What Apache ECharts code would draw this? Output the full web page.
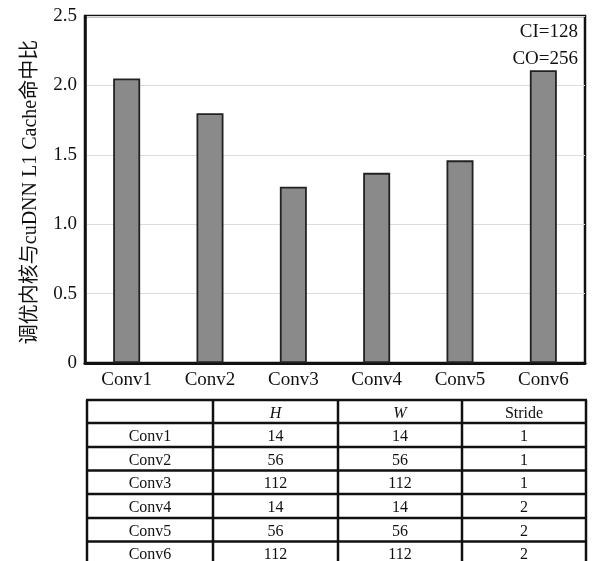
<!DOCTYPE html>
<html>
<head>
<meta charset="utf-8">
<script src="https://cdn.jsdelivr.net/npm/echarts@6/dist/echarts.min.js"></script>
<style>
html,body{margin:0;padding:0;background:#fff;}
#c{width:592px;height:561px;}
</style>
</head>
<body>
<div id="c"></div>
<script>
var categories = ['Conv1', 'Conv2', 'Conv3', 'Conv4', 'Conv5', 'Conv6'];
var hitRatio = [2.05, 1.80, 1.27, 1.37, 1.46, 2.11];
var yTicks = ['0', '0.5', '1.0', '1.5', '2.0', '2.5'];
var yAxisName = '调优内核与cuDNN L1 Cache命中比';
var notes = ['CI=128', 'CO=256'];
var tableHeader = ['', 'H', 'W', 'Stride'];
var tableH = [14, 56, 112, 14, 56, 112];
var tableW = [14, 56, 112, 14, 56, 112];
var tableStride = [1, 1, 1, 2, 2, 2];

var serif = "'Liberation Serif', 'Times New Roman', serif";
var chart = echarts.init(document.getElementById('c'));

// table layout
var colX = [87, 213, 338, 462, 586];
var rowY = [400, 423, 447, 470.5, 494, 518, 541.5, 565];
var graphics = [];
notes.forEach(function (t, i) {
  graphics.push({
    type: 'text',
    style: { text: t, x: 578, y: 32 + i * 27, font: '19px ' + serif, fill: '#111', align: 'right', verticalAlign: 'middle' }
  });
});
graphics.push({
  type: 'text', x: 31, y: 192, rotation: Math.PI / 2,
  style: { text: yAxisName, x: 0, y: 0, font: "20px 'Liberation Serif', 'Noto Sans CJK SC', serif", fill: '#111', align: 'center', verticalAlign: 'middle' }
});
// table lines
colX.forEach(function (x) {
  graphics.push({ type: 'line', shape: { x1: x, y1: rowY[0], x2: x, y2: rowY[rowY.length - 1] }, style: { stroke: '#111', lineWidth: 2.5 } });
});
rowY.forEach(function (y) {
  graphics.push({ type: 'line', shape: { x1: colX[0] - 1, y1: y, x2: colX[colX.length - 1] + 1, y2: y }, style: { stroke: '#111', lineWidth: 2.5 } });
});
function cell(text, c, r, italic) {
  graphics.push({
    type: 'text',
    style: {
      text: String(text),
      x: (colX[c] + colX[c + 1]) / 2,
      y: (rowY[r] + rowY[r + 1]) / 2 + 2,
      font: (italic ? 'italic ' : '') + '16px ' + serif,
      fill: '#111', align: 'center', verticalAlign: 'middle'
    }
  });
}
tableHeader.forEach(function (h, c) { if (h) cell(h, c, 0, h !== 'Stride'); });
categories.forEach(function (name, i) {
  cell(name, 0, i + 1);
  cell(tableH[i], 1, i + 1);
  cell(tableW[i], 2, i + 1);
  cell(tableStride[i], 3, i + 1);
});

chart.setOption({
  animation: false,
  backgroundColor: '#fff',
  grid: { left: 85, top: 16, width: 500, height: 347, show: true, borderColor: '#111', borderWidth: 2.5, backgroundColor: 'transparent' },
  xAxis: {
    type: 'category', data: categories,
    axisLine: { show: true, lineStyle: { color: '#111', width: 3 } },
    axisTick: { show: false },
    axisLabel: { color: '#111', fontFamily: serif, fontSize: 19, margin: 8 }
  },
  yAxis: {
    type: 'value', min: 0, max: 2.5, interval: 0.5,
    axisLine: { show: true, lineStyle: { color: '#111', width: 2.5 } },
    axisTick: { show: false },
    splitLine: { show: true, lineStyle: { color: '#dcdcdc', width: 1 } },
    axisLabel: {
      color: '#111', fontFamily: serif, fontSize: 19, margin: 8,
      formatter: function (v) { return yTicks[Math.round(v / 0.5)]; }
    }
  },
  series: [{
    type: 'bar', data: hitRatio, barWidth: 27,
    itemStyle: { color: '#8a8a8a', borderColor: '#222', borderWidth: 1.8 }
  }],
  graphic: graphics
});
</script>
</body>
</html>
